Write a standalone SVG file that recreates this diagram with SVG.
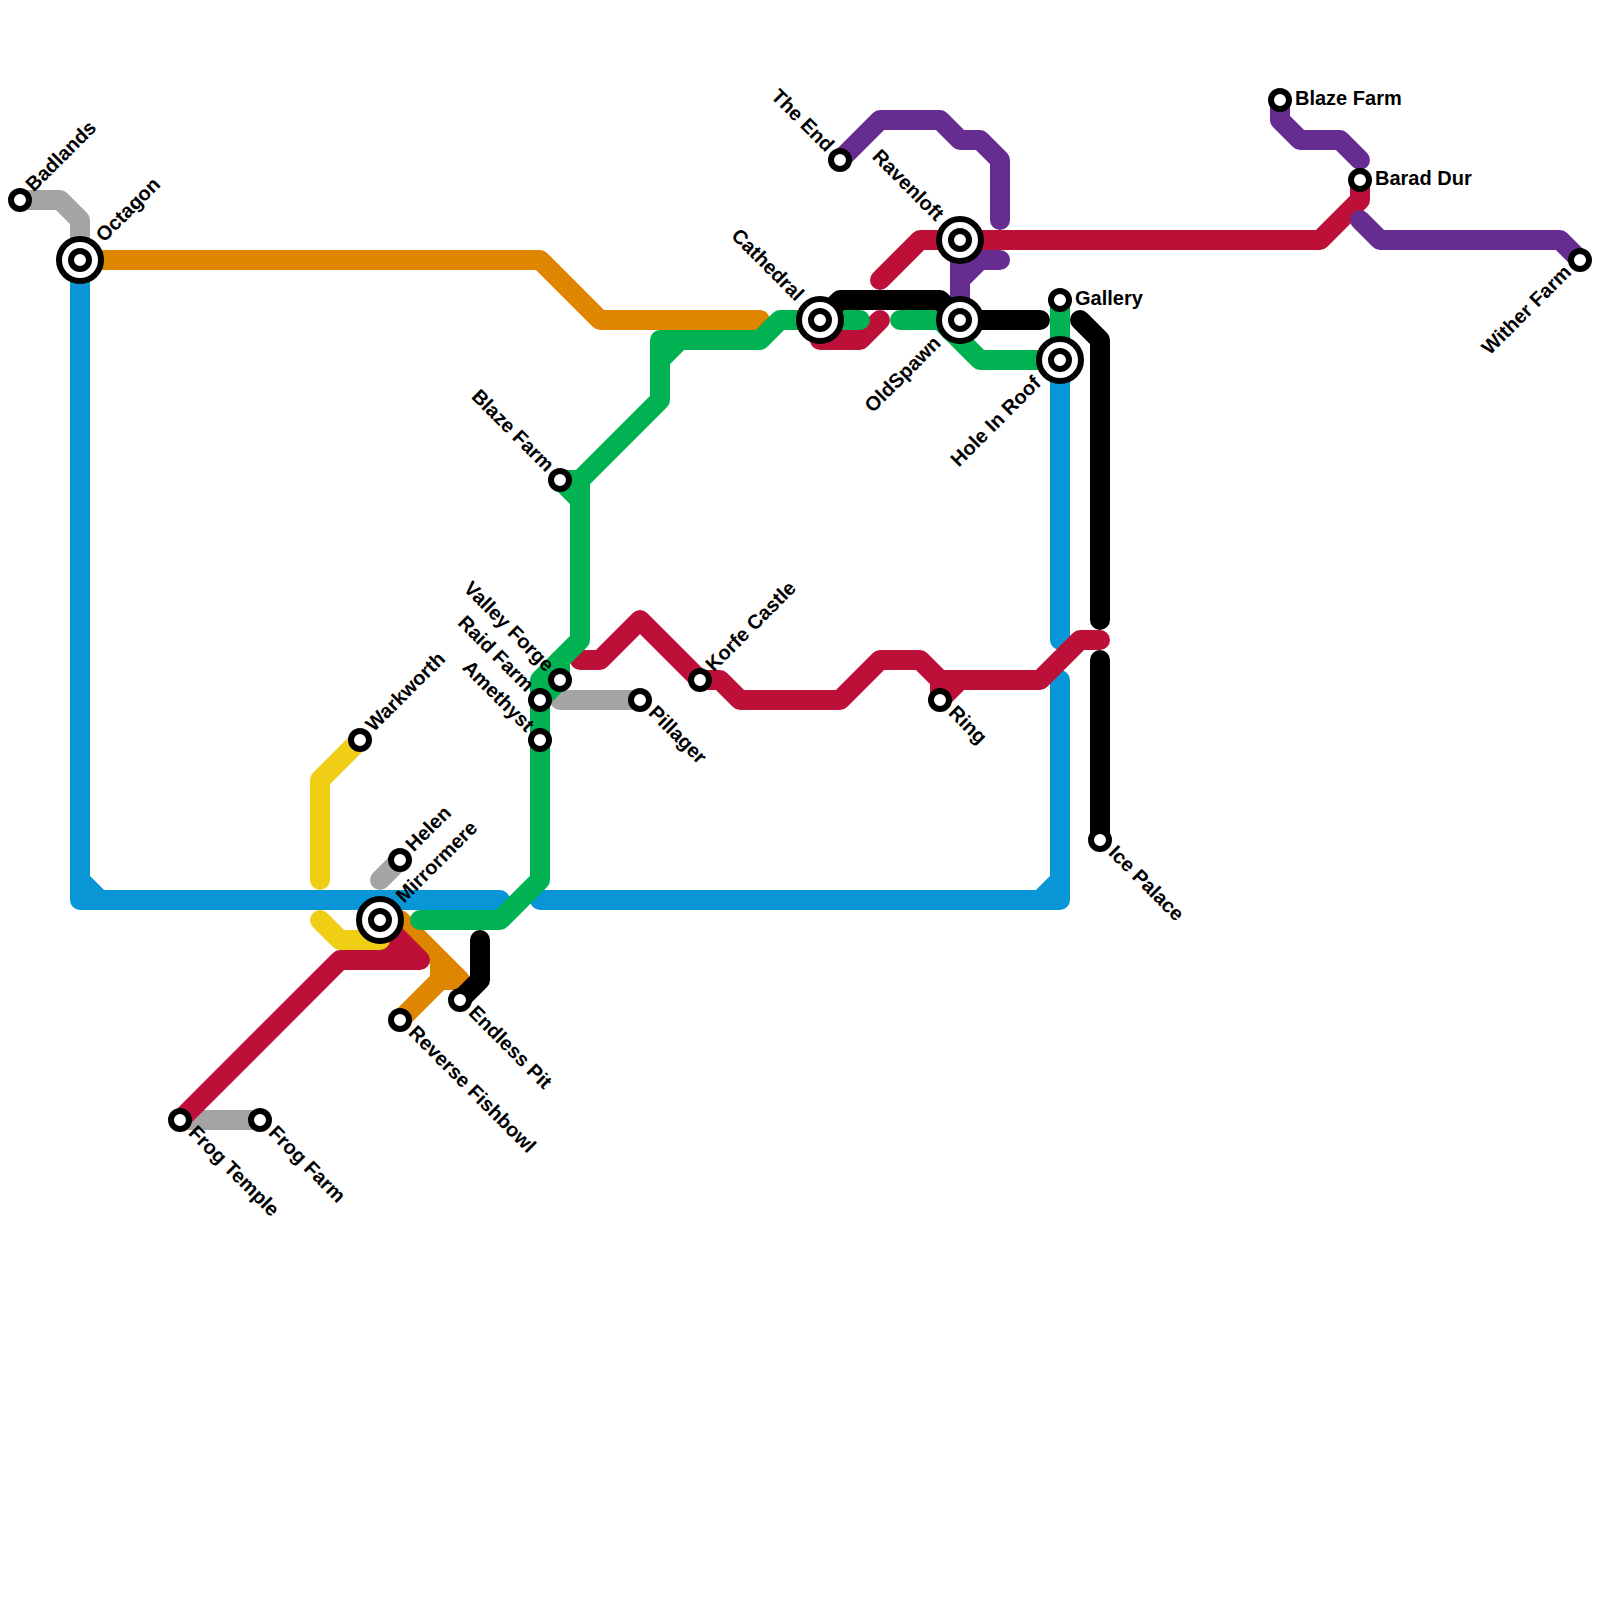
<svg xmlns="http://www.w3.org/2000/svg" width="1600" height="1600" viewBox="0 0 1600 1600">
<style>
.l{fill:none;stroke-width:20;stroke-linecap:round;stroke-linejoin:round}
.gray{stroke:#a4a4a4}.blue{stroke:#0896d7}.orange{stroke:#df8600}.crimson{stroke:#bd1038}.yellow{stroke:#f0ce15}.green{stroke:#00b251}.purple{stroke:#662c90}.black{stroke:#000}
.s{fill:#fff;stroke:#000;stroke-width:6}
text{font-family:"Liberation Sans",Arial,sans-serif;font-size:20px;font-weight:700;fill:#000;dominant-baseline:central}
.e{text-anchor:end}
</style>
<g id="connectors">
<path class="l gray" d="M20 200H60L80 220V260"/>
<path class="l gray" d="M560 700H640"/>
<path class="l gray" d="M180 1120H260"/>
<path class="l gray" d="M400 860L380 880"/>
<path class="l blue" d="M80 260V900H500M80 880L100 900"/>
<path class="l blue" d="M540 900H1060V680M1040 900L1060 880"/>
<path class="l blue" d="M1060 360V640"/>
<path class="l orange" d="M80 260H540L600 320H760"/>
<path class="l orange" d="M380 920H400L460 980H440V960M440 980L400 1020"/>
<path class="l crimson" d="M180 1120L340 960H420L380 920L360 960M380 940H400"/>
<path class="l crimson" d="M580 660H600L640 620L700 680H720L740 700H840L880 660H920L940 680H1040L1080 640H1100"/>
<path class="l crimson" d="M940 700V680H960L940 700"/>
<path class="l crimson" d="M880 280L920 240H1320L1360 200V180"/>
<path class="l crimson" d="M880 320L860 340H820"/>
<path class="l purple" d="M840 160L880 120H940L960 140H980L1000 160V220"/>
<path class="l purple" d="M960 240V320M960 280L980 260H1000"/>
<path class="l purple" d="M1280 100V120L1300 140H1340L1360 160"/>
<path class="l purple" d="M1360 220L1380 240H1560L1580 260"/>
<path class="l yellow" d="M360 740L320 780V880"/>
<path class="l yellow" d="M320 920L340 940H380V920"/>
<path class="l green" d="M420 920H500L540 880V680L580 640V480L660 400V340H760L780 320H860"/>
<path class="l green" d="M560 480H580V500L560 480M660 360L680 340"/>
<path class="l green" d="M560 660V680L540 700"/>
<path class="l green" d="M900 320H940L980 360H1060V300"/>
<path class="l black" d="M820 320L840 300H940L960 320H1040"/>
<path class="l black" d="M1080 320L1100 340V620"/>
<path class="l black" d="M1100 660V840"/>
<path class="l black" d="M480 940V980L460 1000"/>
</g>
<defs>
<g id="st"><circle class="s" r="9"/></g>
<g id="big"><circle class="s" r="21"/><circle class="s" r="9"/></g>
</defs>
<g id="n-badlands"><use href="#st" x="20" y="200"/><text transform="translate(20 200) rotate(-45)" x="15" y="-2.5">Badlands</text></g>
<g id="n-octagon"><use href="#big" x="80" y="260"/><text transform="translate(80 260) rotate(-45)" x="29" y="-2">Octagon</text></g>
<g id="n-warkworth"><use href="#st" x="360" y="740"/><text transform="translate(360 740) rotate(-45)" x="15" y="-2.5">Warkworth</text></g>
<g id="n-helen"><use href="#st" x="400" y="860"/><text transform="translate(400 860) rotate(-45)" x="15" y="-2.5">Helen</text></g>
<g id="n-mirrormere"><use href="#big" x="380" y="920"/><text transform="translate(380 920) rotate(-45)" x="28.5" y="-1.5">Mirrormere</text></g>
<g id="n-reverse"><use href="#st" x="400" y="1020"/><text transform="translate(400 1020) rotate(45)" x="15" y="-2.5">Reverse Fishbowl</text></g>
<g id="n-endless"><use href="#st" x="460" y="1000"/><text transform="translate(460 1000) rotate(45)" x="15" y="-2.5">Endless Pit</text></g>
<g id="n-frogtemple"><use href="#st" x="180" y="1120"/><text transform="translate(180 1120) rotate(45)" x="15" y="-2.5">Frog Temple</text></g>
<g id="n-frogfarm"><use href="#st" x="260" y="1120"/><text transform="translate(260 1120) rotate(45)" x="15" y="-2.5">Frog Farm</text></g>
<g id="n-amethyst"><use href="#st" x="540" y="740"/><text class="e" transform="translate(540 740) rotate(45)" x="-15" y="-2">Amethyst</text></g>
<g id="n-raid"><use href="#st" x="540" y="700"/><text class="e" transform="translate(540 700) rotate(45)" x="-15" y="-2">Raid Farm</text></g>
<g id="n-valley"><use href="#st" x="560" y="680"/><text class="e" transform="translate(560 680) rotate(45)" x="-15" y="-2">Valley Forge</text></g>
<g id="n-blazel"><use href="#st" x="560" y="480"/><text class="e" transform="translate(560 480) rotate(45)" x="-15" y="-2">Blaze Farm</text></g>
<g id="n-pillager"><use href="#st" x="640" y="700"/><text transform="translate(640 700) rotate(45)" x="15" y="-2.5">Pillager</text></g>
<g id="n-korfe"><use href="#st" x="700" y="680"/><text transform="translate(700 680) rotate(-45)" x="15" y="-2.5">Korfe Castle</text></g>
<g id="n-ring"><use href="#st" x="940" y="700"/><text transform="translate(940 700) rotate(45)" x="15" y="-2.5">Ring</text></g>
<g id="n-cathedral"><use href="#big" x="820" y="320"/><text class="e" transform="translate(820 320) rotate(45)" x="-30" y="-2.5">Cathedral</text></g>
<g id="n-theend"><use href="#st" x="840" y="160"/><text class="e" transform="translate(840 160) rotate(45)" x="-15" y="-2">The End</text></g>
<g id="n-ravenloft"><use href="#big" x="960" y="240"/><text class="e" transform="translate(960 240) rotate(45)" x="-30" y="-2.5">Ravenloft</text></g>
<g id="n-oldspawn"><use href="#big" x="960" y="320"/><text class="e" transform="translate(960 320) rotate(-45)" x="-30" y="-2.5">OldSpawn</text></g>
<g id="n-gallery"><use href="#st" x="1060" y="300"/><text x="1075" y="298">Gallery</text></g>
<g id="n-hole"><use href="#big" x="1060" y="360"/><text class="e" transform="translate(1060 360) rotate(-45)" x="-30" y="-2.5">Hole In Roof</text></g>
<g id="n-ice"><use href="#st" x="1100" y="840"/><text transform="translate(1100 840) rotate(45)" x="15" y="-2.5">Ice Palace</text></g>
<g id="n-blazer"><use href="#st" x="1280" y="100"/><text x="1295" y="98">Blaze Farm</text></g>
<g id="n-barad"><use href="#st" x="1360" y="180"/><text x="1375" y="178">Barad Dur</text></g>
<g id="n-wither"><use href="#st" x="1580" y="260"/><text class="e" transform="translate(1580 260) rotate(-45)" x="-15" y="-3">Wither Farm</text></g>
</svg>
